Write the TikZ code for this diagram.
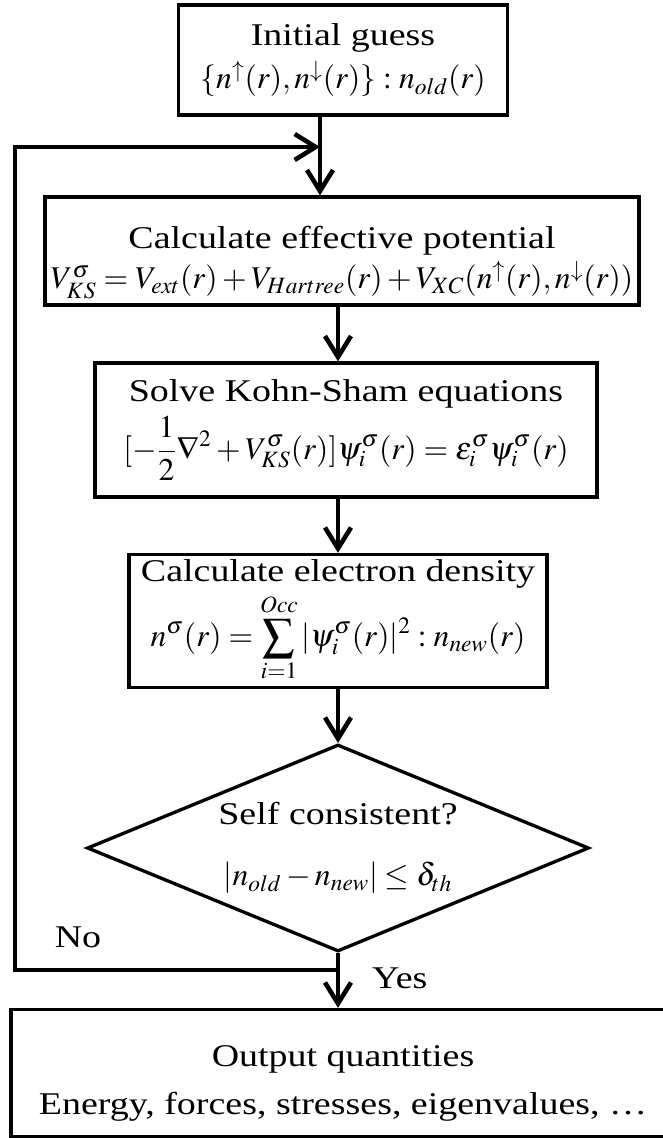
\documentclass[tikz,border=0pt]{standalone}
\usepackage{mathptmx}
\usepackage[no-math]{fontspec}
\setmainfont{Liberation Serif}[FakeStretch=1.2]
\usetikzlibrary{arrows.meta,shapes.geometric}
\newcommand{\chartfont}{\fontsize{18}{21}\selectfont}
\tikzset{
  stage/.style={draw,line width=1.9pt,align=center,font=\chartfont,inner sep=0pt},
  test/.style={diamond,aspect=2.43,draw,line width=1.9pt,align=center,font=\chartfont,inner sep=0pt},
  flow/.style={-{Straight Barb[length=4.2mm,width=5.2mm]},line width=2.6pt},
  tag/.style={font=\chartfont}
}
\begin{document}
\begin{tikzpicture}[x=0.02cm,y=-0.02cm]
\useasboundingbox (0,0) rectangle (662,1138);
% boxes of the SCF cycle
\node[stage,minimum width=6.58cm,minimum height=2.2cm] (guess) at (343,60) {Initial guess\\[4pt] $\{n^{\uparrow}(r),n^{\downarrow}(r)\}:n_{old}(r)$};
\node[stage,minimum width=11.88cm,minimum height=2.16cm] (potential) at (342,251) {\rule{0pt}{26pt}Calculate effective potential\\[2pt] $V_{KS}^{\sigma}=V_{ext}(r)+V_{Hartree}(r)+V_{XC}(n^{\uparrow}(r),n^{\downarrow}(r))$};
\node[stage,minimum width=10.04cm,minimum height=2.68cm] (kohnsham) at (346,430) {Solve Kohn-Sham equations\\[4pt] $\displaystyle[-\frac{1}{2}\nabla^{2}+V_{KS}^{\sigma}(r)]\psi_{i}^{\sigma}(r)=\varepsilon_{i}^{\sigma}\psi_{i}^{\sigma}(r)$};
\node[stage,minimum width=8.36cm,minimum height=2.66cm] (density) at (338,621) {Calculate electron density\\[2pt] $\displaystyle n^{\sigma}(r)=\sum_{i=1}^{Occ}|\psi_{i}^{\sigma}(r)|^{2}:n_{new}(r)$};
\node[test,minimum width=10.04cm,minimum height=4.14cm] (check) at (338,848) {Self consistent?\\[14pt] $|n_{old}-n_{new}|\le\delta_{th}$};
\node[stage,minimum width=13.28cm,minimum height=2.54cm] (output) at (343,1073) {\rule{0pt}{24pt}Output quantities\\[6pt] Energy, forces, stresses, eigenvalues, \ldots};
\node[tag] (no) at (78,937) {No};
\node[tag,anchor=west] (yes) at (366,978) {Yes};
% connectors
\coordinate (merge) at (320,147);
\coordinate (split) at (338,970);
\draw[flow] (guess.south -| merge) -- (merge |- potential.north);
\draw[flow] (potential.south -| check) -- (check |- kohnsham.north);
\draw[flow] (kohnsham.south -| check) -- (check |- density.north);
\draw[flow] (density.south -| check) -- (check.north);
\draw[flow] (check.south) -- (check |- output.north);
\draw[flow] (split) -- ++(-323,0) |- (merge);
\end{tikzpicture}
\end{document}
